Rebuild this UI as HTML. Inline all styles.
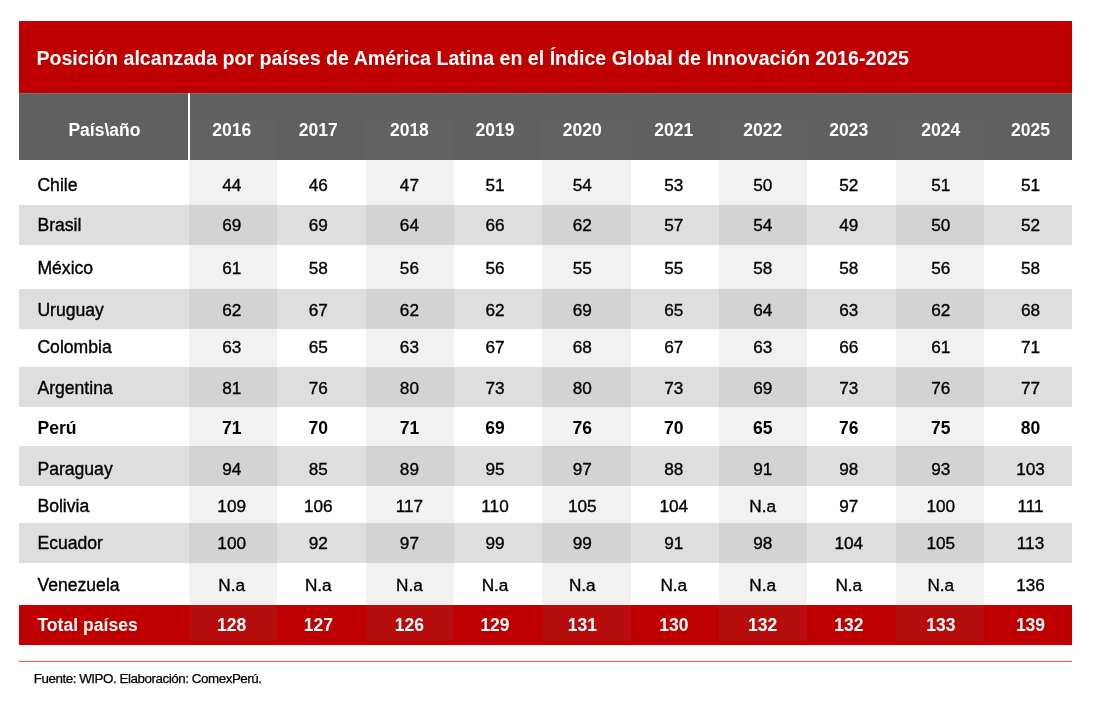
<!DOCTYPE html>
<html lang="es"><head><meta charset="utf-8"><title>Índice Global de Innovación</title>
<style>
html,body{margin:0;padding:0;background:#fff;}
body{width:1095px;height:701px;position:relative;overflow:hidden;font-family:"Liberation Sans",Arial,sans-serif;color:#000;}
.abs{position:absolute;}
.t{position:absolute;white-space:nowrap;line-height:20px;height:20px;}
.c{text-align:center;width:80px;margin-left:-40px;}
.title{left:36.4px;font-size:19.6px;font-weight:bold;color:#fff;}
.h{font-size:17.5px;font-weight:bold;color:#fff;}
.b{font-size:17.2px;-webkit-text-stroke:0.35px currentColor;}
.n{font-size:17.6px;left:37.4px;}
.bold{font-weight:bold;-webkit-text-stroke:0;font-size:17.5px;}
.n.bold{font-size:17.6px;}
.w{color:#fff;}
.foot{left:33.7px;font-size:13.4px;letter-spacing:-0.458px;-webkit-text-stroke:0.25px currentColor;}
</style></head><body>

<div class="abs" style="left:19.1px;top:21.3px;width:1053.1px;height:72px;background:#c00000"></div>
<div class="abs" style="left:19.1px;top:93px;width:1053.1px;height:67.3px;background:#606060"></div>
<div class="abs" style="left:19.1px;top:93px;width:1053.1px;height:1px;background:rgba(255,255,255,0.13)"></div>
<div class="abs" style="left:19.1px;top:204.7px;width:1053.1px;height:40.0px;background:#dedede"></div>
<div class="abs" style="left:19.1px;top:288.5px;width:1053.1px;height:40.0px;background:#dedede"></div>
<div class="abs" style="left:19.1px;top:367.2px;width:1053.1px;height:40.1px;background:#dedede"></div>
<div class="abs" style="left:19.1px;top:446.1px;width:1053.1px;height:39.5px;background:#dedede"></div>
<div class="abs" style="left:19.1px;top:522.5px;width:1053.1px;height:40.1px;background:#dedede"></div>
<div class="abs" style="left:19.1px;top:605.0px;width:1053.1px;height:40.1px;background:#c00000"></div>
<div class="abs" style="left:189.0px;top:118.5px;width:88.33px;height:522.3px;background:rgba(120,120,120,0.105)"></div>
<div class="abs" style="left:365.66px;top:118.5px;width:88.34px;height:522.3px;background:rgba(120,120,120,0.105)"></div>
<div class="abs" style="left:542.32px;top:118.5px;width:88.33px;height:522.3px;background:rgba(120,120,120,0.105)"></div>
<div class="abs" style="left:718.98px;top:118.5px;width:88.33px;height:522.3px;background:rgba(120,120,120,0.105)"></div>
<div class="abs" style="left:895.64px;top:118.5px;width:88.36px;height:522.3px;background:rgba(120,120,120,0.105)"></div>
<div class="abs" style="left:188px;top:93px;width:2px;height:67.3px;background:#fff"></div>
<div class="abs" style="left:19.1px;top:661px;width:1053.1px;height:1px;background:#de6868"></div>
<div class="abs" style="left:19.1px;top:660px;width:1053.1px;height:1px;background:rgba(192,0,0,0.13)"></div>
<div role="table" aria-label="Posición en el Índice Global de Innovación">
<div class="t title" role="caption" style="top:47.91px">Posición alcanzada por países de América Latina en el Índice Global de Innovación 2016-2025</div>
<div role="row">
<div class="t c h" role="columnheader" style="left:104.4px;top:119.94px">País\año</div>
<div class="t c h" role="columnheader" style="left:231.7px;top:119.94px">2016</div>
<div class="t c h" role="columnheader" style="left:318.3px;top:119.94px">2017</div>
<div class="t c h" role="columnheader" style="left:409.4px;top:119.94px">2018</div>
<div class="t c h" role="columnheader" style="left:495.0px;top:119.94px">2019</div>
<div class="t c h" role="columnheader" style="left:582.3px;top:119.94px">2020</div>
<div class="t c h" role="columnheader" style="left:673.8px;top:119.94px">2021</div>
<div class="t c h" role="columnheader" style="left:762.7px;top:119.94px">2022</div>
<div class="t c h" role="columnheader" style="left:848.8px;top:119.94px">2023</div>
<div class="t c h" role="columnheader" style="left:940.8px;top:119.94px">2024</div>
<div class="t c h" role="columnheader" style="left:1030.5px;top:119.94px">2025</div>
</div>
<div role="row">
<div class="t b n" role="rowheader" style="top:174.90px">Chile</div>
<div class="t c b" role="cell" style="left:231.7px;top:175.04px">44</div>
<div class="t c b" role="cell" style="left:318.3px;top:175.04px">46</div>
<div class="t c b" role="cell" style="left:409.4px;top:175.04px">47</div>
<div class="t c b" role="cell" style="left:495.0px;top:175.04px">51</div>
<div class="t c b" role="cell" style="left:582.3px;top:175.04px">54</div>
<div class="t c b" role="cell" style="left:673.8px;top:175.04px">53</div>
<div class="t c b" role="cell" style="left:762.7px;top:175.04px">50</div>
<div class="t c b" role="cell" style="left:848.8px;top:175.04px">52</div>
<div class="t c b" role="cell" style="left:940.8px;top:175.04px">51</div>
<div class="t c b" role="cell" style="left:1030.5px;top:175.04px">51</div>
</div>
<div role="row">
<div class="t b n" role="rowheader" style="top:214.90px">Brasil</div>
<div class="t c b" role="cell" style="left:231.7px;top:215.04px">69</div>
<div class="t c b" role="cell" style="left:318.3px;top:215.04px">69</div>
<div class="t c b" role="cell" style="left:409.4px;top:215.04px">64</div>
<div class="t c b" role="cell" style="left:495.0px;top:215.04px">66</div>
<div class="t c b" role="cell" style="left:582.3px;top:215.04px">62</div>
<div class="t c b" role="cell" style="left:673.8px;top:215.04px">57</div>
<div class="t c b" role="cell" style="left:762.7px;top:215.04px">54</div>
<div class="t c b" role="cell" style="left:848.8px;top:215.04px">49</div>
<div class="t c b" role="cell" style="left:940.8px;top:215.04px">50</div>
<div class="t c b" role="cell" style="left:1030.5px;top:215.04px">52</div>
</div>
<div role="row">
<div class="t b n" role="rowheader" style="top:257.90px">México</div>
<div class="t c b" role="cell" style="left:231.7px;top:258.04px">61</div>
<div class="t c b" role="cell" style="left:318.3px;top:258.04px">58</div>
<div class="t c b" role="cell" style="left:409.4px;top:258.04px">56</div>
<div class="t c b" role="cell" style="left:495.0px;top:258.04px">56</div>
<div class="t c b" role="cell" style="left:582.3px;top:258.04px">55</div>
<div class="t c b" role="cell" style="left:673.8px;top:258.04px">55</div>
<div class="t c b" role="cell" style="left:762.7px;top:258.04px">58</div>
<div class="t c b" role="cell" style="left:848.8px;top:258.04px">58</div>
<div class="t c b" role="cell" style="left:940.8px;top:258.04px">56</div>
<div class="t c b" role="cell" style="left:1030.5px;top:258.04px">58</div>
</div>
<div role="row">
<div class="t b n" role="rowheader" style="top:299.90px">Uruguay</div>
<div class="t c b" role="cell" style="left:231.7px;top:300.04px">62</div>
<div class="t c b" role="cell" style="left:318.3px;top:300.04px">67</div>
<div class="t c b" role="cell" style="left:409.4px;top:300.04px">62</div>
<div class="t c b" role="cell" style="left:495.0px;top:300.04px">62</div>
<div class="t c b" role="cell" style="left:582.3px;top:300.04px">69</div>
<div class="t c b" role="cell" style="left:673.8px;top:300.04px">65</div>
<div class="t c b" role="cell" style="left:762.7px;top:300.04px">64</div>
<div class="t c b" role="cell" style="left:848.8px;top:300.04px">63</div>
<div class="t c b" role="cell" style="left:940.8px;top:300.04px">62</div>
<div class="t c b" role="cell" style="left:1030.5px;top:300.04px">68</div>
</div>
<div role="row">
<div class="t b n" role="rowheader" style="top:336.90px">Colombia</div>
<div class="t c b" role="cell" style="left:231.7px;top:337.04px">63</div>
<div class="t c b" role="cell" style="left:318.3px;top:337.04px">65</div>
<div class="t c b" role="cell" style="left:409.4px;top:337.04px">63</div>
<div class="t c b" role="cell" style="left:495.0px;top:337.04px">67</div>
<div class="t c b" role="cell" style="left:582.3px;top:337.04px">68</div>
<div class="t c b" role="cell" style="left:673.8px;top:337.04px">67</div>
<div class="t c b" role="cell" style="left:762.7px;top:337.04px">63</div>
<div class="t c b" role="cell" style="left:848.8px;top:337.04px">66</div>
<div class="t c b" role="cell" style="left:940.8px;top:337.04px">61</div>
<div class="t c b" role="cell" style="left:1030.5px;top:337.04px">71</div>
</div>
<div role="row">
<div class="t b n" role="rowheader" style="top:377.90px">Argentina</div>
<div class="t c b" role="cell" style="left:231.7px;top:378.04px">81</div>
<div class="t c b" role="cell" style="left:318.3px;top:378.04px">76</div>
<div class="t c b" role="cell" style="left:409.4px;top:378.04px">80</div>
<div class="t c b" role="cell" style="left:495.0px;top:378.04px">73</div>
<div class="t c b" role="cell" style="left:582.3px;top:378.04px">80</div>
<div class="t c b" role="cell" style="left:673.8px;top:378.04px">73</div>
<div class="t c b" role="cell" style="left:762.7px;top:378.04px">69</div>
<div class="t c b" role="cell" style="left:848.8px;top:378.04px">73</div>
<div class="t c b" role="cell" style="left:940.8px;top:378.04px">76</div>
<div class="t c b" role="cell" style="left:1030.5px;top:378.04px">77</div>
</div>
<div role="row">
<div class="t b bold n" role="rowheader" style="top:417.90px">Perú</div>
<div class="t c b bold" role="cell" style="left:231.7px;top:417.94px">71</div>
<div class="t c b bold" role="cell" style="left:318.3px;top:417.94px">70</div>
<div class="t c b bold" role="cell" style="left:409.4px;top:417.94px">71</div>
<div class="t c b bold" role="cell" style="left:495.0px;top:417.94px">69</div>
<div class="t c b bold" role="cell" style="left:582.3px;top:417.94px">76</div>
<div class="t c b bold" role="cell" style="left:673.8px;top:417.94px">70</div>
<div class="t c b bold" role="cell" style="left:762.7px;top:417.94px">65</div>
<div class="t c b bold" role="cell" style="left:848.8px;top:417.94px">76</div>
<div class="t c b bold" role="cell" style="left:940.8px;top:417.94px">75</div>
<div class="t c b bold" role="cell" style="left:1030.5px;top:417.94px">80</div>
</div>
<div role="row">
<div class="t b n" role="rowheader" style="top:458.90px">Paraguay</div>
<div class="t c b" role="cell" style="left:231.7px;top:459.04px">94</div>
<div class="t c b" role="cell" style="left:318.3px;top:459.04px">85</div>
<div class="t c b" role="cell" style="left:409.4px;top:459.04px">89</div>
<div class="t c b" role="cell" style="left:495.0px;top:459.04px">95</div>
<div class="t c b" role="cell" style="left:582.3px;top:459.04px">97</div>
<div class="t c b" role="cell" style="left:673.8px;top:459.04px">88</div>
<div class="t c b" role="cell" style="left:762.7px;top:459.04px">91</div>
<div class="t c b" role="cell" style="left:848.8px;top:459.04px">98</div>
<div class="t c b" role="cell" style="left:940.8px;top:459.04px">93</div>
<div class="t c b" role="cell" style="left:1030.5px;top:459.04px">103</div>
</div>
<div role="row">
<div class="t b n" role="rowheader" style="top:495.90px">Bolivia</div>
<div class="t c b" role="cell" style="left:231.7px;top:496.04px">109</div>
<div class="t c b" role="cell" style="left:318.3px;top:496.04px">106</div>
<div class="t c b" role="cell" style="left:409.4px;top:496.04px">117</div>
<div class="t c b" role="cell" style="left:495.0px;top:496.04px">110</div>
<div class="t c b" role="cell" style="left:582.3px;top:496.04px">105</div>
<div class="t c b" role="cell" style="left:673.8px;top:496.04px">104</div>
<div class="t c b" role="cell" style="left:762.7px;top:496.04px">N.a</div>
<div class="t c b" role="cell" style="left:848.8px;top:496.04px">97</div>
<div class="t c b" role="cell" style="left:940.8px;top:496.04px">100</div>
<div class="t c b" role="cell" style="left:1030.5px;top:496.04px">111</div>
</div>
<div role="row">
<div class="t b n" role="rowheader" style="top:532.90px">Ecuador</div>
<div class="t c b" role="cell" style="left:231.7px;top:533.04px">100</div>
<div class="t c b" role="cell" style="left:318.3px;top:533.04px">92</div>
<div class="t c b" role="cell" style="left:409.4px;top:533.04px">97</div>
<div class="t c b" role="cell" style="left:495.0px;top:533.04px">99</div>
<div class="t c b" role="cell" style="left:582.3px;top:533.04px">99</div>
<div class="t c b" role="cell" style="left:673.8px;top:533.04px">91</div>
<div class="t c b" role="cell" style="left:762.7px;top:533.04px">98</div>
<div class="t c b" role="cell" style="left:848.8px;top:533.04px">104</div>
<div class="t c b" role="cell" style="left:940.8px;top:533.04px">105</div>
<div class="t c b" role="cell" style="left:1030.5px;top:533.04px">113</div>
</div>
<div role="row">
<div class="t b n" role="rowheader" style="top:574.90px">Venezuela</div>
<div class="t c b" role="cell" style="left:231.7px;top:575.04px">N.a</div>
<div class="t c b" role="cell" style="left:318.3px;top:575.04px">N.a</div>
<div class="t c b" role="cell" style="left:409.4px;top:575.04px">N.a</div>
<div class="t c b" role="cell" style="left:495.0px;top:575.04px">N.a</div>
<div class="t c b" role="cell" style="left:582.3px;top:575.04px">N.a</div>
<div class="t c b" role="cell" style="left:673.8px;top:575.04px">N.a</div>
<div class="t c b" role="cell" style="left:762.7px;top:575.04px">N.a</div>
<div class="t c b" role="cell" style="left:848.8px;top:575.04px">N.a</div>
<div class="t c b" role="cell" style="left:940.8px;top:575.04px">N.a</div>
<div class="t c b" role="cell" style="left:1030.5px;top:575.04px">136</div>
</div>
<div role="row">
<div class="t b bold w n" role="rowheader" style="top:614.90px">Total países</div>
<div class="t c b bold w" role="cell" style="left:231.7px;top:614.94px">128</div>
<div class="t c b bold w" role="cell" style="left:318.3px;top:614.94px">127</div>
<div class="t c b bold w" role="cell" style="left:409.4px;top:614.94px">126</div>
<div class="t c b bold w" role="cell" style="left:495.0px;top:614.94px">129</div>
<div class="t c b bold w" role="cell" style="left:582.3px;top:614.94px">131</div>
<div class="t c b bold w" role="cell" style="left:673.8px;top:614.94px">130</div>
<div class="t c b bold w" role="cell" style="left:762.7px;top:614.94px">132</div>
<div class="t c b bold w" role="cell" style="left:848.8px;top:614.94px">132</div>
<div class="t c b bold w" role="cell" style="left:940.8px;top:614.94px">133</div>
<div class="t c b bold w" role="cell" style="left:1030.5px;top:614.94px">139</div>
</div>
</div>
<div class="t foot" style="top:669.36px">Fuente: WIPO. Elaboración: ComexPerú.</div>
</body></html>
